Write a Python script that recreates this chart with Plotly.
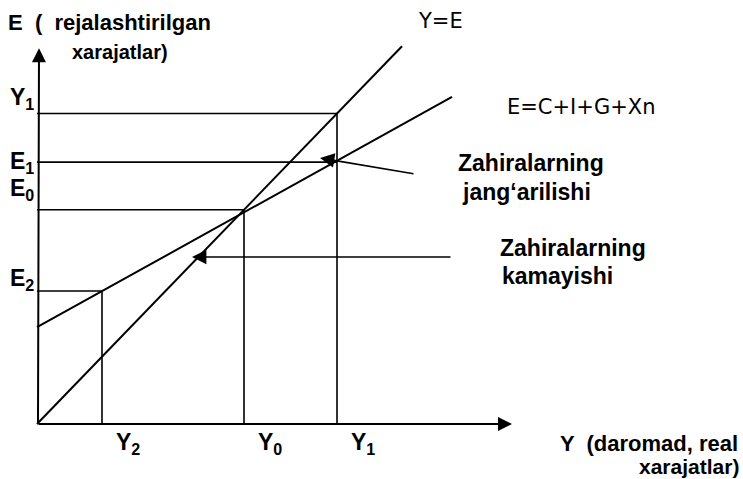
import plotly.graph_objects as go

# ---------------- data (income / expenditure units) ----------------
income_labels = ["Y<sub>2</sub>", "Y<sub>0</sub>", "Y<sub>1</sub>"]
income_values = [65, 207, 300]

exp_labels = ["E<sub>2</sub>", "E<sub>0</sub>", "E<sub>1</sub>", "Y<sub>1</sub>"]
exp_values = [128.5, 207, 253, 300]

# 45-degree line Y = E
diag_x = [0, 365]
diag_y = [0, 365]

# planned expenditure line E = C + I + G + Xn
ae_x = [0, 415]
ae_y = [93.5, 316]

# axis extents
x_axis_end = 475
y_axis_end = 363

# ---------------- geometry helpers ----------------
W, H = 743, 479
ORIGIN_PX = (37, 424)
YSCALE = 1.035
x_range = [-ORIGIN_PX[0], W - ORIGIN_PX[0]]
y_range = [-(H - ORIGIN_PX[1]) / YSCALE, ORIGIN_PX[1] / YSCALE]

def px(xp, yp):
    return xp - ORIGIN_PX[0], (ORIGIN_PX[1] - yp) / YSCALE

BOLD = "Liberation Sans, Arial, sans-serif"
REG = "DejaVu Sans, sans-serif"

fig = go.Figure()

# guide lines (drop lines) built from the data values
Y2, Y0, Y1 = income_values
E2, E0, E1, EY1 = exp_values
gx, gy = [], []
gx += [0, Y1, Y1, None]; gy += [EY1, EY1, 0, None]
gx += [0, Y1, None]; gy += [E1, E1, None]
gx += [0, Y0, Y0, None]; gy += [E0, E0, 0, None]
gx += [0, Y2, Y2, None]; gy += [E2, E2, 0, None]

fig.add_trace(go.Scatter(x=gx, y=gy, mode="lines",
                         line=dict(color="black", width=1.6),
                         hoverinfo="skip", showlegend=False))
fig.add_trace(go.Scatter(x=diag_x, y=diag_y, mode="lines",
                         line=dict(color="black", width=2),
                         hoverinfo="skip", showlegend=False))
fig.add_trace(go.Scatter(x=ae_x, y=ae_y, mode="lines",
                         line=dict(color="black", width=2),
                         hoverinfo="skip", showlegend=False))

ann = []
# axes with arrows
ann.append(dict(x=x_axis_end, y=0, ax=0, ay=0, xref="x", yref="y", axref="x", ayref="y",
                text="", showarrow=True, arrowhead=2, arrowsize=1.4, arrowwidth=2,
                arrowcolor="black", standoff=0))
ann.append(dict(x=2, y=y_axis_end, ax=1, ay=0, xref="x", yref="y", axref="x", ayref="y",
                text="", showarrow=True, arrowhead=2, arrowsize=1.4, arrowwidth=2,
                arrowcolor="black", standoff=0))

# inner arrows
tx, ty = px(452, 257)
hx, hy = px(192, 257)
ann.append(dict(x=hx, y=hy, ax=tx, ay=ty, xref="x", yref="y", axref="x", ayref="y",
                text="", showarrow=True, arrowhead=2, arrowsize=1.8, arrowwidth=1.6,
                arrowcolor="black", standoff=0))
tx, ty = px(415, 174)
hx, hy = px(320, 158)
ann.append(dict(x=hx, y=hy, ax=tx, ay=ty, xref="x", yref="y", axref="x", ayref="y",
                text="", showarrow=True, arrowhead=2, arrowsize=1.8, arrowwidth=1.6,
                arrowcolor="black", standoff=0))

# tick labels along the income axis
for lab, v in zip(income_labels, income_values):
    ann.append(dict(x=v, y=0, xref="x", yref="y", text="<b>%s</b>" % lab,
                    showarrow=False, xanchor="left", yanchor="middle",
                    xshift=12, yshift=-19, font=dict(family=BOLD, size=23, color="black")))

# tick labels along the expenditure axis
exp_shifts = [12, 20, 0, 15]
for lab, v, s in zip(exp_labels, exp_values, exp_shifts):
    ann.append(dict(x=0, y=v, xref="x", yref="y", text="<b>%s</b>" % lab,
                    showarrow=False, xanchor="right", yanchor="middle",
                    xshift=-1, yshift=s, font=dict(family=BOLD, size=23, color="black")))

def text_at(xp, yp, txt, family, size, xanchor="left"):
    x, y = px(xp, yp)
    ann.append(dict(x=x, y=y, xref="x", yref="y", text=txt, showarrow=False,
                    xanchor=xanchor, yanchor="middle",
                    font=dict(family=family, size=size, color="black")))

text_at(6, 22, "<b>E  (  rejalashtirilgan</b>", BOLD, 22)
text_at(70, 52, "<b>xarajatlar)</b>", BOLD, 20)
text_at(416, 21, "Y=E", REG, 21)
text_at(505, 107, "E=C+I+G+Xn", REG, 21)
text_at(456, 163, "<b>Zahiralarning</b>", BOLD, 23)
text_at(460, 192, "<b>jang‘arilishi</b>", BOLD, 23)
text_at(498, 248, "<b>Zahiralarning</b>", BOLD, 23)
text_at(500, 276, "<b>kamayishi</b>", BOLD, 23)
text_at(558, 443, "<b>Y  (daromad, real</b>", BOLD, 22)
text_at(741, 466, "<b>xarajatlar)</b>", BOLD, 21, xanchor="right")

fig.update_layout(
    width=W, height=H,
    margin=dict(l=0, r=0, t=0, b=0, pad=0),
    paper_bgcolor="white", plot_bgcolor="white",
    xaxis=dict(range=x_range, visible=False, showgrid=False, zeroline=False, fixedrange=True),
    yaxis=dict(range=y_range, visible=False, showgrid=False, zeroline=False, fixedrange=True),
    annotations=ann,
    showlegend=False,
)

fig.write_html("out.html", config={"displayModeBar": False},
               post_script="document.body.style.margin='0';document.body.style.overflow='hidden';")
